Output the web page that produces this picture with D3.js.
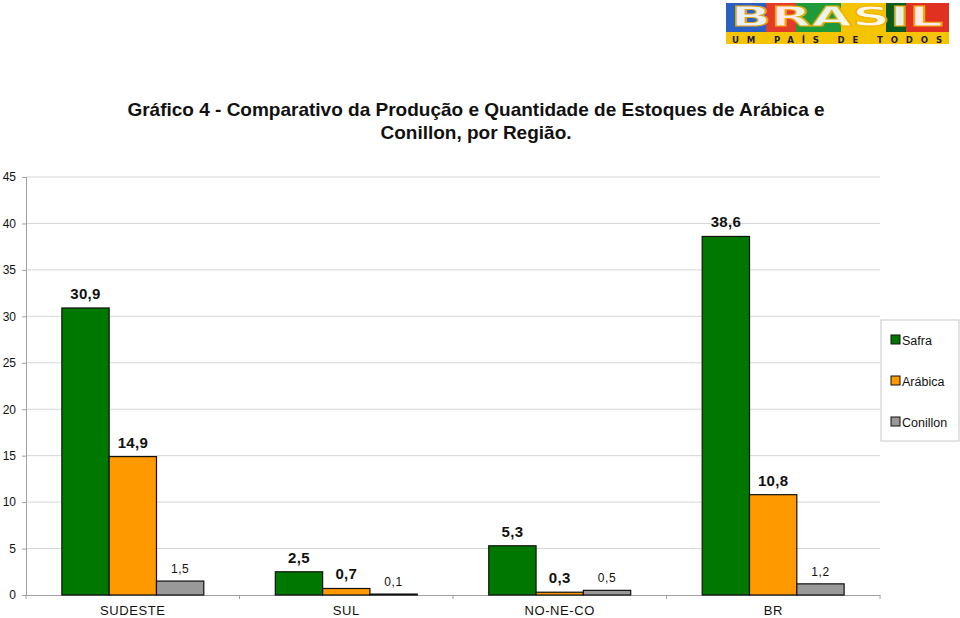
<!DOCTYPE html>
<html><head><meta charset="utf-8">
<script src="https://cdn.jsdelivr.net/npm/d3@7"></script>
<style>body{margin:0;background:#fff}svg{display:block}</style>
</head><body>
<script>
const categories = ["SUDESTE", "SUL", "NO-NE-CO", "BR"];
const seriesNames = ["Safra", "Arábica", "Conillon"];
const safra = [30.9, 2.5, 5.3, 38.6];
const arabica = [14.9, 0.7, 0.3, 10.8];
const conillon = [1.5, 0.1, 0.5, 1.2];
const yTicks = [0, 5, 10, 15, 20, 25, 30, 35, 40, 45];
const colors = ["#007800", "#ff9900", "#999999"];
const series = [safra, arabica, conillon];

const W = 960, H = 618;
const svg = d3.select("body").append("svg").attr("width", W).attr("height", H);
const font = "Liberation Sans, Arial, sans-serif";

const x = d3.scaleBand().domain(categories).range([26, 880]).paddingInner(0.335).paddingOuter(0.168);
const x0 = d3.scaleBand().domain(categories).range([26, 880]);
const y = d3.scaleLinear().domain([0, 45]).range([595, 177]);
const xs = d3.scaleBand().domain(seriesNames).range([0, x.bandwidth()]);

// grid
svg.append("g").selectAll("line").data(yTicks.filter(d => d > 0)).join("line")
  .attr("x1", 26).attr("x2", 880).attr("y1", d => y(d)).attr("y2", d => y(d))
  .attr("stroke", "#d6d6d6").attr("stroke-width", 1);

// y axis
const ya = svg.append("g").attr("transform", "translate(26,0)")
  .call(d3.axisLeft(y).tickValues(yTicks).tickSize(4).tickPadding(6));
ya.select(".domain").attr("stroke", "#a0a0a0");
ya.selectAll(".tick line").attr("stroke", "#a0a0a0");
ya.selectAll("text").attr("font-family", font).attr("font-size", 12).attr("fill", "#111");

// x axis
const xa = svg.append("g").attr("transform", "translate(0,595)")
  .call(d3.axisBottom(x0).tickSize(0).tickPadding(11));
xa.select(".domain").attr("stroke", "#a0a0a0");
xa.selectAll("text").attr("font-family", font).attr("font-size", 13).attr("fill", "#111").attr("letter-spacing", 0.6);
svg.append("g").selectAll("line").data(d3.range(5)).join("line")
  .attr("x1", i => 26 + i * x0.step()).attr("x2", i => 26 + i * x0.step())
  .attr("y1", 595).attr("y2", 599).attr("stroke", "#a0a0a0");

// bars
series.forEach((vals, si) => {
  const g = svg.append("g");
  g.selectAll("rect").data(categories).join("rect")
    .attr("x", (c) => x(c) + xs(seriesNames[si]))
    .attr("y", (c, i) => y(vals[i]))
    .attr("width", xs.bandwidth())
    .attr("height", (c, i) => y(0) - y(vals[i]))
    .attr("fill", colors[si]).attr("stroke", "#111").attr("stroke-width", 1.2);
  g.selectAll("text").data(categories).join("text")
    .attr("x", (c) => x(c) + xs(seriesNames[si]) + xs.bandwidth() / 2)
    .attr("y", (c, i) => y(vals[i]) - (si === 2 ? 8 : 9))
    .attr("text-anchor", "middle")
    .attr("font-family", font)
    .attr("font-size", si === 2 ? 12 : 15)
    .attr("font-weight", si === 2 ? "normal" : "bold")
    .attr("letter-spacing", si === 2 ? 0.6 : 0.3)
    .attr("fill", "#111")
    .text((c, i) => String(vals[i]).replace(".", ","));
});

// legend
svg.append("rect").attr("x", 881).attr("y", 320).attr("width", 78).attr("height", 121)
  .attr("fill", "#fff").attr("stroke", "#c8c8c8");
seriesNames.forEach((n, i) => {
  const yy = 340 + i * 41;
  svg.append("rect").attr("x", 891).attr("y", yy - 5).attr("width", 9).attr("height", 9)
    .attr("fill", colors[i]).attr("stroke", "#111").attr("stroke-width", 1);
  svg.append("text").attr("x", 902).attr("y", yy + 5).attr("font-family", font)
    .attr("font-size", 12.5).attr("fill", "#111").text(n);
});

// title
const tfont = "Liberation Sans Narrow, Arial Narrow, Liberation Sans, sans-serif";
svg.append("text").attr("x", 476).attr("y", 116).attr("text-anchor", "middle")
  .attr("font-family", tfont).attr("font-weight", "bold").attr("font-size", 19).attr("fill", "#111")
  .text("Gráfico 4 - Comparativo da Produção e Quantidade de Estoques de Arábica e");
svg.append("text").attr("x", 476).attr("y", 139).attr("text-anchor", "middle")
  .attr("font-family", tfont).attr("font-weight", "bold").attr("font-size", 19).attr("fill", "#111")
  .text("Conillon, por Região.");

// logo
const logo = svg.append("g").attr("transform", "translate(726,3)");
logo.append("rect").attr("width", 223).attr("height", 30).attr("fill", "#e8e8f0");
const blocks = [[0,40,"#2b5fc2"],[40,30,"#e33b2a"],[70,45,"#1f9a3a"],[115,45,"#f5c400"],[160,20,"#0a5a1e"],[180,43,"#e03020"]];
blocks.forEach(b => logo.append("rect").attr("x", b[0]).attr("y", 0).attr("width", b[1]).attr("height", 30).attr("fill", b[2]));
logo.append("text").attr("x", 111).attr("y", 23).attr("text-anchor", "middle")
  .attr("font-family", "DejaVu Sans, sans-serif").attr("font-weight", "bold").attr("font-size", 27)
  .attr("textLength", 212).attr("lengthAdjust", "spacingAndGlyphs")
  .attr("fill", "#fff").attr("stroke", "#f3b000").attr("stroke-width", 1).attr("opacity", 0.9).text("BRASIL");
logo.append("rect").attr("x", 0).attr("y", 29).attr("width", 223).attr("height", 12).attr("fill", "#f5c400");
logo.append("text").attr("x", 111).attr("y", 39.5).attr("text-anchor", "middle")
  .attr("font-family", "DejaVu Sans, sans-serif").attr("font-weight", "bold").attr("font-size", 8.5)
  .attr("textLength", 210).attr("lengthAdjust", "spacing")
  .attr("fill", "#1a1a50").text("UM PAÍS DE TODOS");
</script>
</body></html>
